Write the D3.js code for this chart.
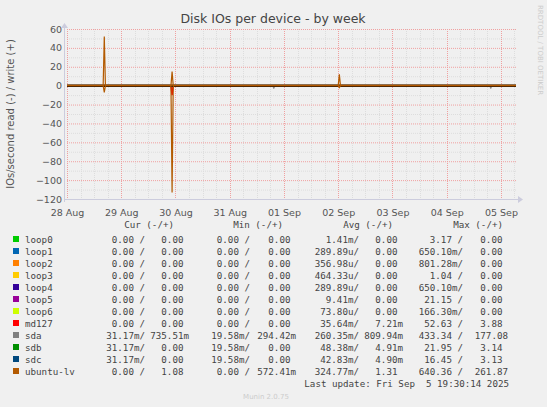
<!DOCTYPE html><html><head><meta charset="utf-8"><script src="https://cdn.jsdelivr.net/npm/d3@7"></script>
<style>body{margin:0;background:#f0f0f0}svg{display:block}</style></head><body><svg id="c" width="547" height="407"></svg>
<script>
const names=["loop0","loop1","loop2","loop3","loop4","loop5","loop6","md127","sda","sdb","sdc","ubuntu-lv"];
const colors=["#00cc00","#0066b3","#ff8000","#ffcc00","#330099","#990099","#ccff00","#ff0000","#808080","#008f00","#00487d","#b35a00"];
const cur=[["0.00 ","0.00 "],["0.00 ","0.00 "],["0.00 ","0.00 "],["0.00 ","0.00 "],["0.00 ","0.00 "],["0.00 ","0.00 "],["0.00 ","0.00 "],["0.00 ","0.00 "],["31.17m","735.51m"],["31.17m","0.00 "],["31.17m","0.00 "],["0.00 ","1.08 "]];
const mins=[["0.00 ","0.00 "],["0.00 ","0.00 "],["0.00 ","0.00 "],["0.00 ","0.00 "],["0.00 ","0.00 "],["0.00 ","0.00 "],["0.00 ","0.00 "],["0.00 ","0.00 "],["19.58m","294.42m"],["19.58m","0.00 "],["19.58m","0.00 "],["0.00 ","572.41m"]];
const avgs=[["1.41m","0.00 "],["289.89u","0.00 "],["356.98u","0.00 "],["464.33u","0.00 "],["289.89u","0.00 "],["9.41m","0.00 "],["73.80u","0.00 "],["35.64m","7.21m"],["260.35m","809.94m"],["48.38m","4.91m"],["42.83m","4.90m"],["324.77m","1.31 "]];
const maxs=[["3.17 ","0.00 "],["650.10m","0.00 "],["801.28m","0.00 "],["1.04 ","0.00 "],["650.10m","0.00 "],["21.15 ","0.00 "],["166.30m","0.00 "],["52.63 ","3.88 "],["433.34 ","177.08"],["21.95 ","3.14 "],["16.45 ","3.13 "],["640.36 ","261.87"]];
const yTicks=[60,40,20,0,-20,-40,-60,-80,-100,-120];
const xTickLabels=["28 Aug","29 Aug","30 Aug","31 Aug","01 Sep","02 Sep","03 Sep","04 Sep","05 Sep"];
const ubuntuWrite=[["2025-08-28T16:00",0],["2025-08-28T16:30",52],["2025-08-28T17:00",0],["2025-08-29T22:00",0],["2025-08-29T22:30",15],["2025-08-29T23:00",0],["2025-09-02T00:00",0],["2025-09-02T00:30",12],["2025-09-02T01:00",0]];
const ubuntuRead=[["2025-08-28T16:00",0],["2025-08-28T16:30",-7],["2025-08-28T17:00",0],["2025-08-29T22:00",0],["2025-08-29T22:30",-113],["2025-08-29T23:00",0],["2025-09-02T00:00",0],["2025-09-02T00:30",-2],["2025-09-02T01:00",0]];
const mdRead=[["2025-08-29T22:00",0],["2025-08-29T22:30",-10],["2025-08-29T23:00",0]];
const sdaRead=[["2025-08-29T22:00",0],["2025-08-29T22:30",-6],["2025-08-29T23:00",0],["2025-08-31T19:00",0],["2025-08-31T19:30",-3],["2025-08-31T20:00",0],["2025-09-04T19:00",0],["2025-09-04T19:30",-3],["2025-09-04T20:00",0]];

const svg=d3.select("#c");
const pt=d3.timeParse("%Y-%m-%dT%H:%M");
const x=d3.scaleTime().domain([pt("2025-08-28T00:00"),pt("2025-09-05T06:40")]).range([67,516]);
const y=d3.scaleLinear().domain([-120,60]).range([199,29]);
const [x0,x1]=x.range();
const g=svg.append("g");
d3.range(-120,61,10).filter(v=>v%20!==0).forEach(v=>g.append("line").attr("x1",x0).attr("x2",x1).attr("y1",y(v)+.5).attr("y2",y(v)+.5).attr("stroke","#ddd").attr("stroke-dasharray","1,1"));
x.ticks(d3.timeHour.every(6)).forEach(t=>{if(t.getHours()!==0)g.append("line").attr("x1",Math.round(x(t))+.5).attr("x2",Math.round(x(t))+.5).attr("y1",29).attr("y2",199).attr("stroke","#ddd").attr("stroke-dasharray","1,1");});
yTicks.forEach(v=>g.append("line").attr("x1",x0).attr("x2",x1).attr("y1",y(v)+.5).attr("y2",y(v)+.5).attr("stroke","#f0a0a0").attr("stroke-dasharray","1,1"));
const days=x.ticks(d3.timeDay.every(1));
days.forEach(t=>g.append("line").attr("x1",Math.round(x(t))+.5).attr("x2",Math.round(x(t))+.5).attr("y1",29).attr("y2",199).attr("stroke","#f0a0a0").attr("stroke-dasharray","1,1"));
const ya=d3.axisLeft(y).tickValues(yTicks).tickSize(0).tickPadding(5);
svg.append("g").attr("transform","translate(67,0)").call(ya).call(s=>{s.select(".domain").remove();s.selectAll("text").attr("font-family","DejaVu Sans").attr("font-size",9.5).attr("fill","#555");});
const xa=d3.axisBottom(x).tickValues(days).tickFormat((d,i)=>xTickLabels[i]).tickSize(0).tickPadding(6);
svg.append("g").attr("transform","translate(0,203)").call(xa).call(s=>{s.select(".domain").remove();s.selectAll("text").attr("font-family","DejaVu Sans").attr("font-size",9.5).attr("fill","#555");});
svg.append("line").attr("x1",64).attr("x2",520).attr("y1",199.5).attr("y2",199.5).attr("stroke","#ccd");
svg.append("line").attr("x1",64.5).attr("x2",64.5).attr("y1",24).attr("y2",202).attr("stroke","#ccd");
svg.append("path").attr("d","M518,196 L523,199.5 L518,203Z").attr("fill","#ccd");
svg.append("path").attr("d","M61,28 L64.5,23 L68,28Z").attr("fill","#ccd");
const line=d3.line().x(d=>x(pt(d[0]))).y(d=>y(d[1]));
const full=a=>[["2025-08-28T00:00",0],...a,["2025-09-05T06:40",0]];
const plot=(a,c,w)=>svg.append("path").attr("d",line(full(a))).attr("fill","none").attr("stroke",c).attr("stroke-width",w);
plot(sdaRead,colors[8],1);plot(mdRead,colors[7],1.5);
svg.append("line").attr("x1",x0).attr("x2",x1).attr("y1",y(0)).attr("y2",y(0)).attr("stroke","#000").attr("stroke-width",2.5);
plot(ubuntuRead,colors[11],1.2);plot(ubuntuWrite,colors[11],1.2);
svg.append("line").attr("x1",x0).attr("x2",x1).attr("y1",y(0)-0.5).attr("y2",y(0)-0.5).attr("stroke",colors[11]).attr("stroke-width",1);
svg.append("text").attr("x",273).attr("y",23).attr("text-anchor","middle").attr("font-family","DejaVu Sans").attr("font-size",12.5).attr("fill","#444").text("Disk IOs per device - by week");
svg.append("text").attr("transform","translate(14,114) rotate(-90)").attr("text-anchor","middle").attr("font-family","DejaVu Sans").attr("font-size",10).attr("fill","#555").text("IOs/second read (-) / write (+)");
svg.append("text").attr("transform","translate(538,5) rotate(90)").attr("font-family","DejaVu Sans").attr("font-size",7).attr("fill","#ccc").text("RRDTOOL / TOBI OETIKER");
const mono={"font-family":"DejaVu Sans Mono","font-size":9.2,"fill":"#444"};
const T=(xx,yy,s,anchor)=>{const t=svg.append("text").attr("x",xx).attr("y",yy).attr("text-anchor",anchor||"start").attr("xml:space","preserve").style("white-space","pre").text(s);Object.entries(mono).forEach(([k,v])=>t.attr(k,v));return t;};
T(174,228,"Cur (-/+)","end");T(283,228,"Min (-/+)","end");T(393,228,"Avg (-/+)","end");T(503,228,"Max (-/+)","end");
names.forEach((n,i)=>{const yy=243+i*12;
 svg.append("rect").attr("x",13).attr("y",yy-7).attr("width",6).attr("height",6).attr("fill",colors[i]);
 T(25,yy,n);
 T(145,yy,cur[i][0]+"/","end");T(189,yy,cur[i][1],"end");
 T(250,yy,mins[i][0]+"/","end");T(296,yy,mins[i][1],"end");
 T(359,yy,avgs[i][0]+"/","end");T(403,yy,avgs[i][1],"end");
 T(463,yy,maxs[i][0]+"/","end");T(508,yy,maxs[i][1],"end");
});
T(509,387,"Last update: Fri Sep  5 19:30:14 2025","end");
svg.append("text").attr("x",266).attr("y",399).attr("text-anchor","middle").attr("font-family","DejaVu Sans").attr("font-size",7).attr("fill","#ccc").text("Munin 2.0.75");
</script></body></html>
